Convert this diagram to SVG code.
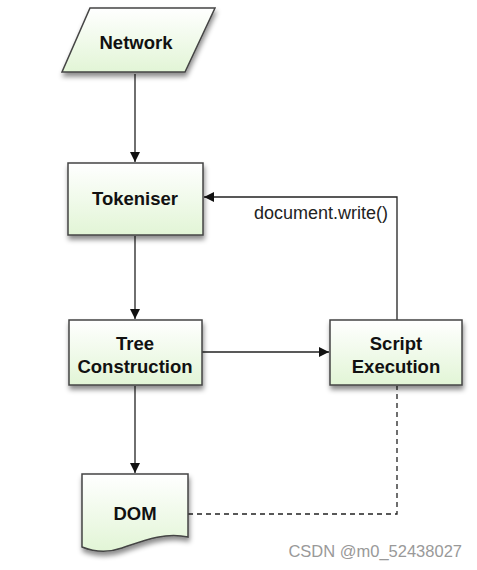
<svg xmlns="http://www.w3.org/2000/svg" width="477" height="570" viewBox="0 0 477 570">
<defs>
<linearGradient id="g" x1="0" y1="0" x2="0" y2="1">
<stop offset="0" stop-color="#ffffff"/>
<stop offset="1" stop-color="#e2f5d6"/>
</linearGradient>
<filter id="sh" x="-20%" y="-20%" width="150%" height="160%">
<feDropShadow dx="1" dy="4" stdDeviation="2.5" flood-color="#000" flood-opacity="0.45"/>
</filter>
<marker id="ah" viewBox="0 0 10 10" refX="10" refY="5" markerWidth="10" markerHeight="10" markerUnits="userSpaceOnUse" orient="auto">
<path d="M0,0 L10,5 L0,10 Z" fill="#111"/>
</marker>
<style>
.n{fill:url(#g);stroke:#444;stroke-width:1.5;filter:url(#sh)}
.t{font-family:"Liberation Sans",Arial,sans-serif;font-weight:bold;font-size:18.5px;fill:#111;text-anchor:middle}
.c{fill:none;stroke:#222;stroke-width:1.3}
</style>
</defs>
<g id="connectors">
<line class="c" x1="135" y1="74" x2="135" y2="162" marker-end="url(#ah)"/>
<line class="c" x1="135" y1="236" x2="135" y2="319" marker-end="url(#ah)"/>
<line class="c" x1="202" y1="352" x2="329" y2="352" marker-end="url(#ah)"/>
<polyline class="c" points="397,320 397,197 204,197" marker-end="url(#ah)"/>
<line class="c" x1="135" y1="386" x2="135" y2="473" marker-end="url(#ah)"/>
<polyline class="c" points="188,514 397,514 397,386" stroke-dasharray="5,4"/>
<text x="388" y="219" font-family="'Liberation Sans',Arial,sans-serif" font-size="18" fill="#222" text-anchor="end">document.write()</text>
</g>
<g id="network">
<path class="n" d="M90,8 L215,8 L185,72 L62,72 Z"/>
<text class="t" x="136" y="49">Network</text>
</g>
<g id="tokeniser">
<rect class="n" x="68" y="163" width="135" height="72"/>
<text class="t" x="135" y="205">Tokeniser</text>
</g>
<g id="tree">
<rect class="n" x="69" y="320" width="133" height="65"/>
<text class="t" x="135" y="350">Tree</text>
<text class="t" x="135" y="373">Construction</text>
</g>
<g id="script">
<rect class="n" x="330" y="320" width="132" height="65"/>
<text class="t" x="396" y="350">Script</text>
<text class="t" x="396" y="373">Execution</text>
</g>
<g id="dom">
<path class="n" d="M82,474 H188 V537 C165,532 145,540 122,548 C105,554 92,551 82,547 Z"/>
<text class="t" x="135" y="520">DOM</text>
</g>
<text x="462" y="557" font-family="'Liberation Sans',Arial,sans-serif" font-size="16.5" fill="#999" text-anchor="end">CSDN @m0_52438027</text>
</svg>
